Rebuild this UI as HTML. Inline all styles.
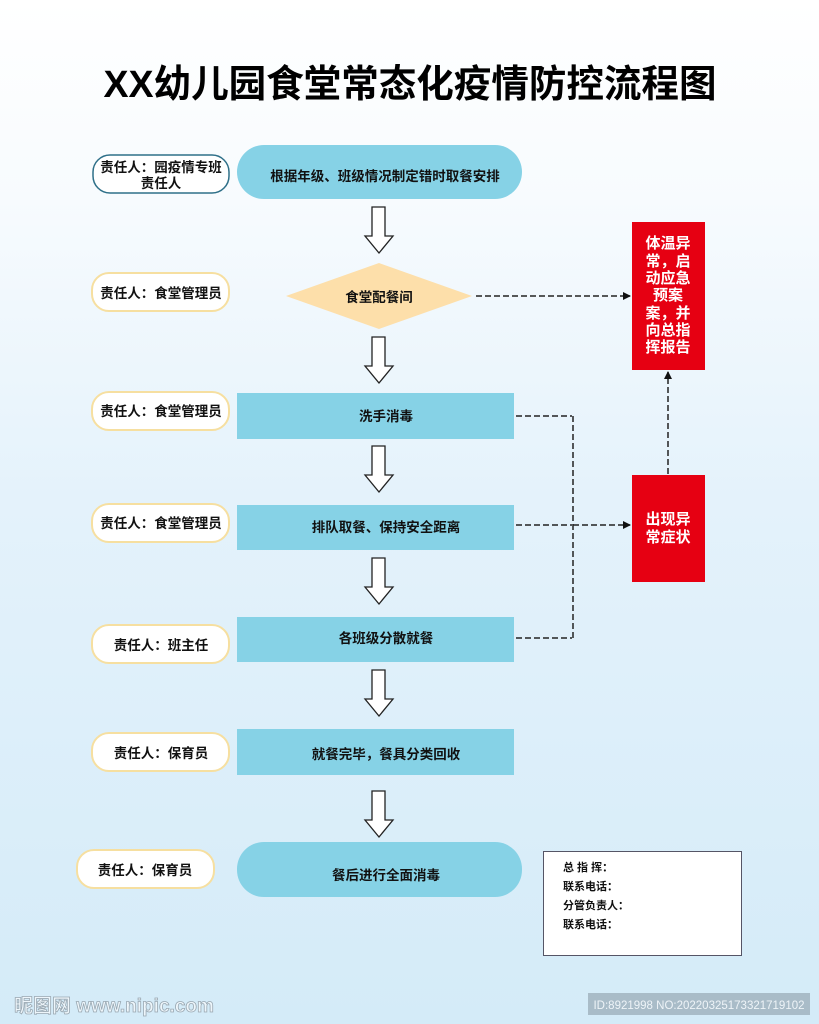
<!DOCTYPE html>
<html><head><meta charset="utf-8"><style>
html,body{margin:0;padding:0;}
body{width:819px;height:1024px;overflow:hidden;background:linear-gradient(#ffffff 0px,#f7fbfe 200px,#e4f2fb 500px,#d4ebf8 1024px);}
svg{display:block;}
text{font-family:"Liberation Sans","Noto Sans CJK SC",sans-serif;font-weight:bold;}
</style></head><body>
<svg width="819" height="1024" viewBox="0 0 819 1024">
<defs>
<marker id="ah" markerWidth="8" markerHeight="8" refX="7" refY="4" orient="auto" markerUnits="userSpaceOnUse"><path d="M0,0 L8,4 L0,8 z" fill="#111"/></marker>
<g id="dn"><path d="M372,0 H385 V29 H393 L379,46 L365,29 H372 Z" fill="#fff" stroke="#222" stroke-width="1.3"/></g>
</defs>
<text x="410" y="97" font-size="38" text-anchor="middle" fill="#000" textLength="613" lengthAdjust="spacingAndGlyphs">XX幼儿园食堂常态化疫情防控流程图</text>

<!-- left labels -->
<g font-size="13.5" text-anchor="middle" fill="#111">
<rect x="93" y="155" width="136" height="38" rx="17" fill="#fff" stroke="#2f7089" stroke-width="1.5"/>
<text x="161" y="172">责任人：园疫情专班</text><text x="161" y="188">责任人</text>
<rect x="92" y="273" width="137" height="38" rx="17" fill="#fff" stroke="#f6dfa0" stroke-width="2"/>
<text x="161" y="298">责任人：食堂管理员</text>
<rect x="92" y="392" width="137" height="38" rx="17" fill="#fff" stroke="#f6dfa0" stroke-width="2"/>
<text x="161" y="416">责任人：食堂管理员</text>
<rect x="92" y="504" width="137" height="38" rx="17" fill="#fff" stroke="#f6dfa0" stroke-width="2"/>
<text x="161" y="528">责任人：食堂管理员</text>
<rect x="92" y="625" width="137" height="38" rx="17" fill="#fff" stroke="#f6dfa0" stroke-width="2"/>
<text x="161" y="650">责任人：班主任</text>
<rect x="92" y="733" width="137" height="38" rx="17" fill="#fff" stroke="#f6dfa0" stroke-width="2"/>
<text x="161" y="758">责任人：保育员</text>
<rect x="77" y="850" width="137" height="38" rx="17" fill="#fff" stroke="#f6dfa0" stroke-width="2"/>
<text x="145" y="875">责任人：保育员</text>
</g>

<!-- main flow -->
<g font-size="13.5" text-anchor="middle" fill="#111">
<rect x="237" y="145" width="285" height="54" rx="27" fill="#86d2e6"/>
<text x="385" y="181">根据年级、班级情况制定错时取餐安排</text>
<polygon points="286,296 379,263 472,296 379,329" fill="#fddfaa"/>
<text x="379" y="302">食堂配餐间</text>
<rect x="237" y="393" width="277" height="46" fill="#86d2e6"/>
<text x="386" y="421">洗手消毒</text>
<rect x="237" y="505" width="277" height="45" fill="#86d2e6"/>
<text x="386" y="532">排队取餐、保持安全距离</text>
<rect x="237" y="617" width="277" height="45" fill="#86d2e6"/>
<text x="386" y="643">各班级分散就餐</text>
<rect x="237" y="729" width="277" height="46" fill="#86d2e6"/>
<text x="386" y="759">就餐完毕，餐具分类回收</text>
<rect x="237" y="842" width="285" height="55" rx="27" fill="#86d2e6"/>
<text x="386" y="880">餐后进行全面消毒</text>
</g>

<use href="#dn" y="207"/>
<use href="#dn" y="337"/>
<use href="#dn" y="446"/>
<use href="#dn" y="558"/>
<use href="#dn" y="670"/>
<use href="#dn" y="791"/>

<!-- red boxes -->
<rect x="632" y="222" width="73" height="148" fill="#e60012"/>
<g font-size="15" text-anchor="middle" fill="#fff">
<text x="668" y="248">体温异</text><text x="668" y="266">常，启</text><text x="668" y="283">动应急</text><text x="668" y="300">预案</text><text x="668" y="318">案，并</text><text x="668" y="335">向总指</text><text x="668" y="352">挥报告</text>
</g>
<rect x="632" y="475" width="73" height="107" fill="#e60012"/>
<g font-size="15" text-anchor="middle" fill="#fff">
<text x="668" y="524">出现异</text><text x="668" y="542">常症状</text>
</g>

<!-- dashed connectors -->
<g stroke="#222" stroke-width="1.5" stroke-dasharray="6,3" fill="none">
<path d="M476,296 H630" marker-end="url(#ah)"/>
<path d="M516,416 H572 M516,525 H572 M516,638 H572 M573,416 V638"/>
<path d="M573,525 H630" marker-end="url(#ah)"/>
<path d="M668,474 V372" marker-end="url(#ah)"/>
</g>

<!-- info box -->
<rect x="543.5" y="851.5" width="198" height="104" fill="#fff" stroke="#556" stroke-width="1"/>
<g font-size="11" fill="#111">
<text x="563" y="871">总 指 挥：</text>
<text x="563" y="890">联系电话：</text>
<text x="563" y="909">分管负责人：</text>
<text x="563" y="928">联系电话：</text>
</g>

<!-- watermark -->
<text x="14" y="1012" font-size="19" fill="#eef6fb" stroke="#9aa8b2" stroke-width="0.8">昵图网 www.nipic.com</text>
<rect x="588" y="993" width="222" height="22" fill="#a9bcc8"/>
<text x="699" y="1009" font-size="11.5" font-weight="normal" text-anchor="middle" fill="#eef4f8" style="font-weight:normal">ID:8921998 NO:20220325173321719102</text>
</svg>
</body></html>
